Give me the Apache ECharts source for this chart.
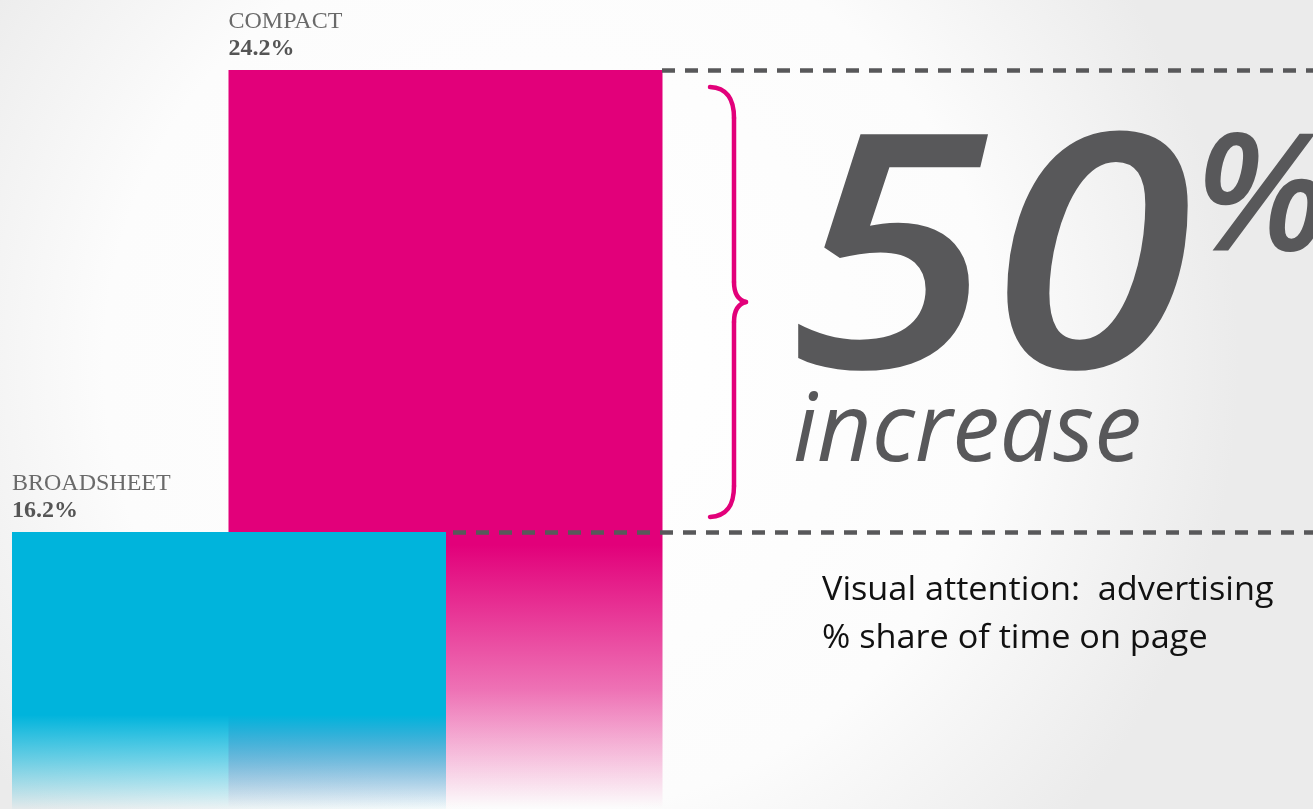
<!DOCTYPE html>
<html>
<head>
<meta charset="utf-8">
<script src="https://cdn.jsdelivr.net/npm/echarts@6/dist/echarts.min.js"></script>
<style>
  html, body { margin: 0; padding: 0; }
  #chart-container { width: 1313px; height: 809px; }
</style>
</head>
<body>
<div id="chart-container"></div>
<script>
var dom = document.getElementById("chart-container");
var myChart = echarts.init(dom, null, { renderer: "canvas" });

// data
var categories = ["BROADSHEET", "COMPACT"];
var shares = [16.2, 24.2];
var increaseText = "50";
var captionLines = ["Visual attention:  advertising", "% share of time on page"];

var PINK = "#e2007a";
var CYAN = "#00b4dc";
var GREY = "#58585a";

function fade(r, g, b, stops) {
  return {
    type: "linear", x: 0, y: stops[0], x2: 0, y2: stops[2], global: true,
    colorStops: [
      { offset: 0, color: "rgba(" + r + "," + g + "," + b + ",1)" },
      { offset: (stops[1] - stops[0]) / (stops[2] - stops[0]), color: "rgba(" + r + "," + g + "," + b + ",0.55)" },
      { offset: 1, color: "rgba(" + r + "," + g + "," + b + ",0)" }
    ]
  };
}

function barLabel(i) {
  return {
    show: true,
    position: [0, -62],
    formatter: "{n|" + categories[i] + "}\n{v|" + shares[i].toFixed(1) + "%}",
    rich: {
      n: { fontFamily: "Liberation Serif", fontSize: 24, color: "#6a6a6a", lineHeight: 27 },
      v: { fontFamily: "Liberation Serif", fontSize: 24, fontWeight: "bold", color: "#555", lineHeight: 27 }
    }
  };
}

var dashStyle = { color: GREY, width: 4.5, type: [13, 10] };

// the pink brace, built from curve pieces
var braceStyle = { stroke: PINK, lineWidth: 4.5, lineCap: "round", fill: null };
function curve(a, b, c, d) {
  return {
    type: "bezierCurve",
    shape: { x1: a[0], y1: a[1], cpx1: b[0], cpy1: b[1], cpx2: c[0], cpy2: c[1], x2: d[0], y2: d[1] },
    style: braceStyle
  };
}
function seg(a, b) {
  return { type: "line", shape: { x1: a[0], y1: a[1], x2: b[0], y2: b[1] }, style: braceStyle };
}

var option = {
  backgroundColor: {
    type: "radial", x: 0.42, y: 0.45, r: 0.85,
    colorStops: [
      { offset: 0, color: "#ffffff" },
      { offset: 0.65, color: "#fcfcfc" },
      { offset: 1, color: "#ebebeb" }
    ]
  },
  animation: false,
  grid: { left: 120.75, width: 433, top: 70, bottom: 0 },
  xAxis: {
    type: "category",
    data: categories,
    show: false
  },
  yAxis: {
    type: "value",
    min: 11.4,
    max: 24.2,
    show: false
  },
  series: [
    {
      name: categories[1],
      type: "bar",
      clip: false,
      z: 2,
      barWidth: 434,
      barGap: "-100%",
      data: ["-", shares[1]],
      itemStyle: { color: fade(226, 0, 122, [545, 690, 808]) },
      label: barLabel(1),
      markLine: {
        silent: true,
        symbol: ["none", "none"],
        label: { show: false },
        lineStyle: dashStyle,
        data: [
          [{ x: 662, yAxis: shares[1] }, { x: 1313, yAxis: shares[1] }],
          [{ x: 453, yAxis: shares[0] }, { x: 1313, yAxis: shares[0] }]
        ]
      }
    },
    {
      name: categories[0],
      type: "bar",
      clip: false,
      z: 3,
      barWidth: 434,
      barGap: "-100%",
      data: [shares[0], "-"],
      itemStyle: { color: fade(0, 180, 220, [715, 760, 812]) },
      label: barLabel(0)
    }
  ],
  graphic: [
    {
      type: "group",
      children: [
        curve([710, 87], [728, 88], [734, 100], [734, 118]),
        seg([734, 118], [734, 282]),
        curve([734, 282], [734, 294], [738, 300], [746, 302]),
        curve([746, 302], [738, 304], [734, 310], [734, 322]),
        seg([734, 322], [734, 486]),
        curve([734, 486], [734, 504], [728, 516], [710, 517])
      ]
    },
    {
      type: "text", x: 789, y: 111, scaleX: 1.12,
      style: {
        text: increaseText, fill: GREY, verticalAlign: "top",
        font: "italic 600 327px 'Open Sans'"
      }
    },
    {
      type: "text", x: 1194, y: 121,
      style: {
        text: "%", fill: GREY, verticalAlign: "top",
        font: "italic 600 164px 'Open Sans'"
      }
    },
    {
      type: "text", x: 793, y: 386,
      style: {
        text: "increase", fill: GREY, verticalAlign: "top",
        font: "italic 95px 'Open Sans'"
      }
    },
    {
      type: "text", x: 822, y: 567, scaleX: 1.07,
      style: {
        text: captionLines.join("\n"), fill: "#111", verticalAlign: "top",
        font: "32px 'Open Sans'", lineHeight: 48
      }
    }
  ]
};

myChart.setOption(option);
window.addEventListener("resize", myChart.resize);
</script>
</body>
</html>
